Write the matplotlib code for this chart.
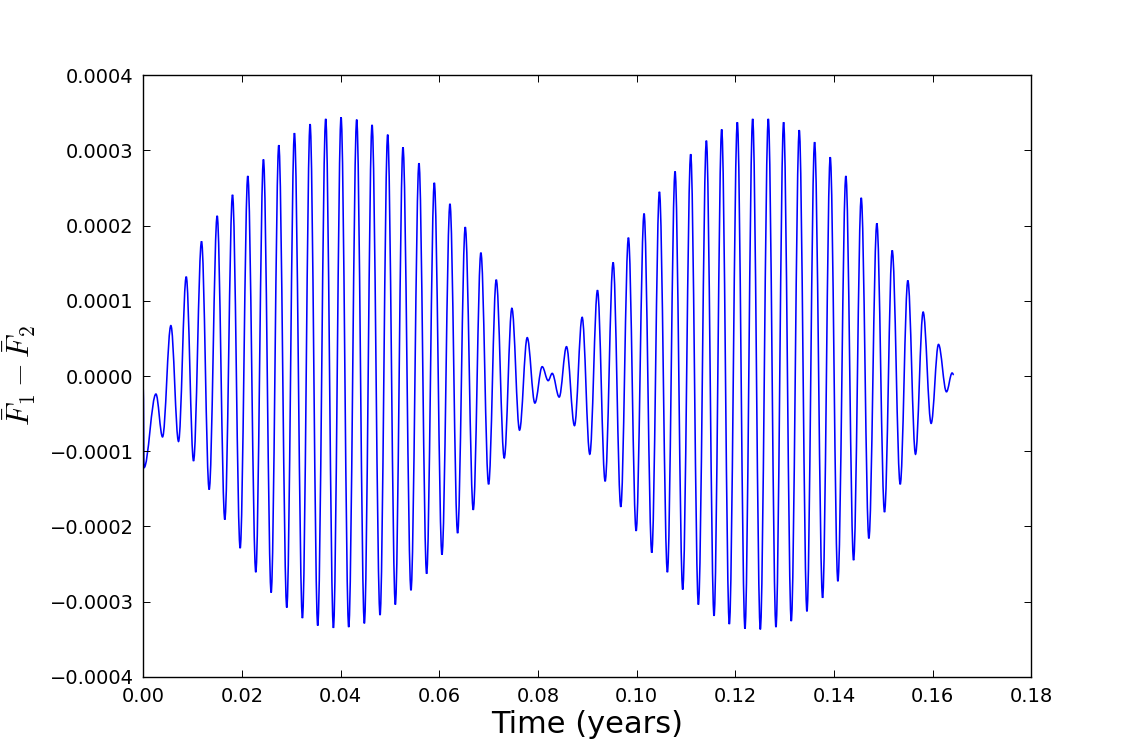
import numpy as np
import matplotlib
matplotlib.use("Agg")
import matplotlib.pyplot as plt
from matplotlib.path import Path
from matplotlib.patches import PathPatch

# Extrema of the signal (time in years, value in units of 1e-4)
times = [
    0.0, 0.00015, 0.00257, 0.00391, 0.00560, 0.00715, 0.00871, 0.01019, 0.01181, 0.01336,
    0.01498, 0.01653, 0.01809, 0.01964, 0.02119, 0.02281, 0.02436, 0.02592, 0.02747, 0.02909,
    0.03064, 0.03226, 0.03381, 0.03536, 0.03698, 0.03854, 0.04009, 0.04164, 0.04326, 0.04481,
    0.04637, 0.04799, 0.04954, 0.05109, 0.05264, 0.05426, 0.05588, 0.05743, 0.05899, 0.06054,
    0.06216, 0.06371, 0.06526, 0.06688, 0.06843, 0.06999, 0.07154, 0.07316, 0.07471, 0.07626,
    0.07782, 0.07937, 0.08085, 0.08207, 0.08288, 0.08430, 0.08578, 0.08740, 0.08895, 0.09050,
    0.09206, 0.09361, 0.09523, 0.09678, 0.09833, 0.09989, 0.10150, 0.10306, 0.10461, 0.10623,
    0.10778, 0.10933, 0.11095, 0.11251, 0.11413, 0.11568, 0.11723, 0.11878, 0.12040, 0.12195,
    0.12351, 0.12506, 0.12668, 0.12823, 0.12978, 0.13133, 0.13295, 0.13451, 0.13606, 0.13768,
    0.13923, 0.14078, 0.14240, 0.14396, 0.14551, 0.14706, 0.14868, 0.15023, 0.15179, 0.15341,
    0.15496, 0.15651, 0.15806, 0.15968, 0.16117, 0.16279, 0.16393, 0.16427,
]
values_e4 = [
    -0.18, -1.22, -0.24, -0.81, 0.67, -0.87, 1.32, -1.13, 1.79, -1.51,
    2.13, -1.91, 2.41, -2.29, 2.66, -2.61, 2.88, -2.88, 3.07, -3.08,
    3.23, -3.22, 3.35, -3.32, 3.42, -3.35, 3.44, -3.34, 3.41, -3.29,
    3.34, -3.18, 3.21, -3.04, 3.04, -2.85, 2.83, -2.63, 2.57, -2.375,
    2.29, -2.09, 1.98, -1.78, 1.64, -1.44, 1.28, -1.09, 0.90, -0.72,
    0.51, -0.36, 0.124, -0.062, 0.035, -0.28, 0.39, -0.66, 0.78, -1.04,
    1.14, -1.40, 1.51, -1.74, 1.84, -2.06, 2.16, -2.35, 2.45, -2.61,
    2.72, -2.84, 2.95, -3.04, 3.13, -3.19, 3.28, -3.30, 3.375, -3.36,
    3.42, -3.37, 3.42, -3.34, 3.375, -3.26, 3.27, -3.13, 3.11, -2.95,
    2.91, -2.73, 2.66, -2.45, 2.37, -2.16, 2.03, -1.81, 1.67, -1.44,
    1.27, -1.04, 0.85, -0.63, 0.42, -0.21, 0.04, 0.016,
]
xticks = [0.00, 0.02, 0.04, 0.06, 0.08, 0.10, 0.12, 0.14, 0.16, 0.18]
yticks = [-0.0004, -0.0003, -0.0002, -0.0001, 0.0, 0.0001, 0.0002, 0.0003, 0.0004]
xlabel = "Time (years)"
ylabel = r"$\bar{F}_1 - \bar{F}_2$"

plt.rcParams['mathtext.fontset'] = 'cm'
plt.rcParams['font.family'] = ['DejaVu Sans']

fig = plt.figure(figsize=(11.46, 7.52), dpi=100, facecolor='white')
ax = fig.add_axes([0.125, 0.1, 0.775, 0.8])

t = np.asarray(times)
v = np.asarray(values_e4) * 1e-4

# smooth curve through the extrema (horizontal tangents at each extremum)
k = 0.36
verts = [(t[0], v[0])]
codes = [Path.MOVETO]
for i in range(len(t) - 1):
    dt = t[i + 1] - t[i]
    verts += [(t[i] + k * dt, v[i]), (t[i + 1] - k * dt, v[i + 1]), (t[i + 1], v[i + 1])]
    codes += [Path.CURVE4] * 3
patch = PathPatch(Path(verts, codes), facecolor='none', edgecolor='blue', linewidth=1.15)
ax.add_patch(patch)

ax.set_xlim(0.0, 0.18)
ax.set_ylim(-0.0004, 0.0004)
ax.set_xticks(xticks)
ax.set_yticks(yticks)
ax.ticklabel_format(useOffset=False, style='plain')
ax.tick_params(direction='in', top=True, right=True, length=5, width=0.7,
               labelsize=14, pad=7)
for s in ax.spines.values():
    s.set_linewidth(1.0)

ax.set_xlabel(xlabel, fontsize=22, labelpad=3)
ax.set_ylabel(ylabel, fontsize=22, labelpad=8)

fig.savefig("out.png", dpi=100, facecolor='white')
